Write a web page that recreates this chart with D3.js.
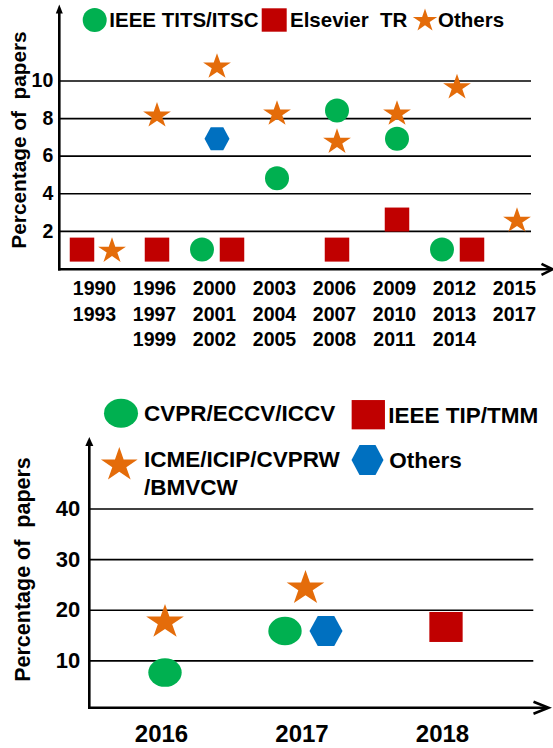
<!DOCTYPE html>
<html><head><meta charset="utf-8">
<script src="https://cdn.jsdelivr.net/npm/d3@7"></script>
<style>
html,body{margin:0;padding:0;background:#fff;}
svg{display:block;}
text{white-space:pre;font-family:"Liberation Sans",Arial,sans-serif;font-weight:bold;fill:#000;}
</style></head><body>
<svg id="chart" width="553" height="748"></svg>
<script>
// ---------- Top chart data ----------
const topCategories = ["1990-1993","1996-1999","2000-2002","2003-2005","2006-2008","2009-2011","2012-2014","2015-2017"];
const topTickLabels = [["1990","1993"],["1996","1997","1999"],["2000","2001","2002"],["2003","2004","2005"],["2006","2007","2008"],["2009","2010","2011"],["2012","2013","2014"],["2015","2017"]];
const topSeriesNames = ["IEEE TITS/ITSC","Elsevier  TR","Others","Unlabeled"];
const topTitsValues   = [null, null, 1.0, 4.8, 8.4, 6.9, 1.0, null];
const topTrValues     = [1.0, 1.0, 1.0, null, 1.0, 2.6, 1.0, null];
const topOthersValues = [1.0, 8.2, 10.8, 8.3, 6.8, 8.3, 9.7, 2.6];
const topUnlabeledValues = [null, null, 6.9, null, null, null, null, null];
const topYTicks = [2, 4, 6, 8, 10];

// ---------- Bottom chart data ----------
const bottomCategories = ["2016","2017","2018"];
const bottomSeriesNames = ["CVPR/ECCV/ICCV","IEEE TIP/TMM","ICME/ICIP/CVPRW\n/BMVCW","Others"];
const bottomCvprValues   = [7.6, 15.8, null];
const bottomTipValues    = [null, null, 16.6];
const bottomIcmeValues   = [17.9, 24.6, null];
const bottomOthersValues = [null, 15.8, null];
const bottomYTicks = [10, 20, 30, 40];

const yLabelText = "Percentage of  papers";

// ---------- styling ----------
const COLORS = {green:"#00b050", red:"#c00000", orange:"#e46c0a", blue:"#0070c0"};
const KA = 0.8908130915292852;
const svg = d3.select("#chart");

function hexPath(rx, ry){
  return d3.line()([[-rx,0],[-rx/2,-ry],[rx/2,-ry],[rx,0],[rx/2,ry],[-rx/2,ry]]) + "Z";
}
function drawMarker(g, shape, color, cx, cy, s){
  if (shape === "circle") {
    g.append("ellipse").attr("cx",cx).attr("cy",cy).attr("rx",s.rx).attr("ry",s.ry).attr("fill",color);
  } else if (shape === "square") {
    g.append("rect").attr("x",cx-s.sw/2).attr("y",cy-s.sh/2).attr("width",s.sw).attr("height",s.sh).attr("fill",color);
  } else if (shape === "star") {
    const R = s.starR;
    g.append("path").attr("d", d3.symbol(d3.symbolStar, R*R/KA)())
      .attr("transform", `translate(${cx},${cy + 0.0955*R*s.starSy}) scale(1,${s.starSy})`)
      .attr("fill", color);
  } else if (shape === "hex") {
    g.append("path").attr("d", hexPath(s.hx, s.hy)).attr("transform", `translate(${cx},${cy})`).attr("fill", color);
  }
}

function drawPanel(p){
  const g = svg.append("g");
  const x = d3.scalePoint().domain(p.categories).range(p.xRange);
  const y = d3.scaleLinear().domain(p.yDomain).range(p.yRange);

  // gridlines + y tick labels
  const ya = g.append("g").attr("transform", `translate(${p.axisX},0)`)
    .call(d3.axisLeft(y).tickValues(p.yTicks).tickSize(-(p.gridEnd - p.axisX)).tickPadding(p.tickPad));
  ya.select(".domain").remove();
  ya.selectAll(".tick line").attr("stroke","#000").attr("stroke-width",1.7);
  ya.selectAll(".tick text").attr("fill","#000")
    .style("font-size", p.yTickFont + "px").style("font-family",'"Liberation Sans",Arial,sans-serif').style("font-weight","bold");

  // x tick labels (multi-line)
  const xa = g.append("g").attr("transform", `translate(0,${p.xAxisY})`)
    .call(d3.axisBottom(x).tickSize(0).tickPadding(0).tickFormat(() => ""));
  xa.select(".domain").remove();
  xa.selectAll(".tick text").each(function(d, i){
    const t = d3.select(this).attr("dy", null).attr("y", null)
      .style("font-size", p.xTickFont + "px").style("font-family",'"Liberation Sans",Arial,sans-serif').style("font-weight","bold");
    p.tickLines[i].forEach((s, j) => {
      t.append("tspan").attr("x", p.labelDx).attr("y", p.labelOffset + j*p.labelGap + 0.36*p.xTickFont).text(s);
    });
  });

  // axes with arrows
  g.append("line").attr("x1",p.axisX).attr("x2",p.axisX).attr("y1",p.xAxisY+1.2).attr("y2",p.yArrowTop+6)
    .attr("stroke","#000").attr("stroke-width",2.6);
  g.append("path").attr("d", d3.line()([[p.axisX, p.yArrowTop],[p.axisX-p.yArrowW/2, p.yArrowTop+p.yArrowH],[p.axisX+p.yArrowW/2, p.yArrowTop+p.yArrowH]]) + "Z")
    .attr("fill","#000");
  g.append("line").attr("x1",p.axisX-1.3).attr("x2",p.xArrowEnd-1).attr("y1",p.xAxisY).attr("y2",p.xAxisY)
    .attr("stroke","#000").attr("stroke-width",2.6);
  g.append("path").attr("d", d3.line()([[p.xArrowEnd-p.xArrowL, p.xAxisY-p.xArrowH],[p.xArrowEnd, p.xAxisY],[p.xArrowEnd-p.xArrowL, p.xAxisY+p.xArrowH]]))
    .attr("fill","none").attr("stroke","#000").attr("stroke-width",2.6).attr("stroke-linejoin","miter");

  // y label
  g.append("text").attr("transform", `translate(${p.yLabelX},${p.yLabelY}) rotate(-90)`)
    .attr("text-anchor","middle").attr("dominant-baseline","central")
    .style("font-size", p.yLabelFont + "px").text(yLabelText);

  // markers: spread markers with near-equal values side by side
  p.categories.forEach((c, i) => {
    const here = p.series.map(s => ({s, v: s.values[i]})).filter(d => d.v != null);
    const groups = [];
    here.forEach(d => {
      const gr = groups.find(q => Math.abs(q[0].v - d.v) < p.clusterTol);
      if (gr) gr.push(d); else groups.push([d]);
    });
    groups.forEach(gr => {
      const off = d3.scalePoint().domain(d3.range(gr.length)).range([-p.spread, p.spread]);
      gr.forEach((d, j) => {
        const dx = gr.length > 1 ? off(j) : 0;
        drawMarker(g, d.s.shape, d.s.color, x(c) + dx, y(d.v), p.size);
      });
    });
  });

  // legend
  p.legend.forEach(L => {
    const s = p.series[L.idx];
    drawMarker(g, s.shape, s.color, L.mx, L.my, L.size);
    const t = g.append("text").style("font-size", p.legendFont + "px");
    s.name.split("\n").forEach((line, j) => {
      t.append("tspan").attr("x", L.tx).attr("y", L.ty + j*L.lineGap + 0.36*p.legendFont).text(line);
    });
  });
}

// ---------- top panel ----------
const topSize = {rx:12, ry:12, sw:24.5, sh:24, starR:14.6, starSy:0.93, hx:12.5, hy:11.5};
drawPanel({
  categories: topCategories, tickLines: topTickLabels,
  series: [
    {name: topSeriesNames[0], values: topTitsValues, shape:"circle", color:COLORS.green},
    {name: topSeriesNames[1], values: topTrValues, shape:"square", color:COLORS.red},
    {name: topSeriesNames[2], values: topOthersValues, shape:"star", color:COLORS.orange},
    {name: topSeriesNames[3], values: topUnlabeledValues, shape:"hex", color:COLORS.blue}
  ],
  xRange:[97, 517], yDomain:[0,10], yRange:[268.4, 80.5], yTicks: topYTicks,
  axisX:59.3, xAxisY:269.3, gridEnd:531, tickPad:6, yTickFont:19.5,
  xTickFont:19.5, labelDx:-3, labelOffset:18.7, labelGap:25.7,
  yArrowTop:4.5, yArrowW:7, yArrowH:9, xArrowEnd:552.5, xArrowL:11, xArrowH:5.5,
  yLabelX:18.5, yLabelY:140, yLabelFont:20.8,
  clusterTol:0.6, spread:15, size: topSize, legendFont:20.5,
  legend: [
    {idx:0, mx:94.7, my:20, tx:109.3, ty:20, lineGap:0, size: topSize},
    {idx:1, mx:274.2, my:20, tx:290, ty:20, lineGap:0, size: {sw:25, sh:23.4}},
    {idx:2, mx:425, my:19.5, tx:438, ty:20, lineGap:0, size: {starR:12.8, starSy:0.95}}
  ]
});

// ---------- bottom panel ----------
const botSize = {rx:16.7, ry:14.3, sw:33.3, sh:30, starR:19.8, starSy:0.92, hx:16.5, hy:15};
drawPanel({
  categories: bottomCategories, tickLines: bottomCategories.map(d => [d]),
  series: [
    {name: bottomSeriesNames[0], values: bottomCvprValues, shape:"circle", color:COLORS.green},
    {name: bottomSeriesNames[1], values: bottomTipValues, shape:"square", color:COLORS.red},
    {name: bottomSeriesNames[2], values: bottomIcmeValues, shape:"star", color:COLORS.orange},
    {name: bottomSeriesNames[3], values: bottomOthersValues, shape:"hex", color:COLORS.blue}
  ],
  xRange:[165, 446], yDomain:[0,40], yRange:[711, 508.5], yTicks: bottomYTicks,
  axisX:89.3, xAxisY:707.7, gridEnd:533.3, tickPad:9, yTickFont:22,
  xTickFont:24, labelDx:-4, labelOffset:25.3, labelGap:0,
  yArrowTop:437, yArrowW:8, yArrowH:9, xArrowEnd:548.5, xArrowL:15, xArrowH:6,
  yLabelX:22.7, yLabelY:569.5, yLabelFont:21.5,
  clusterTol:3, spread:20.5, size: botSize, legendFont:22.5,
  legend: [
    {idx:0, mx:121, my:413.3, tx:144, ty:413, lineGap:0, size:{rx:17, ry:14.5}},
    {idx:1, mx:368.3, my:414.7, tx:388.3, ty:414.7, lineGap:0, size:{sw:33.3, sh:29.3}},
    {idx:2, mx:119.3, my:463.3, tx:144, ty:459, lineGap:28.3, size:{starR:19.3, starSy:0.93}},
    {idx:3, mx:367.5, my:460, tx:389.3, ty:460, lineGap:0, size:{hx:16, hy:15}}
  ]
});
</script>
</body></html>
